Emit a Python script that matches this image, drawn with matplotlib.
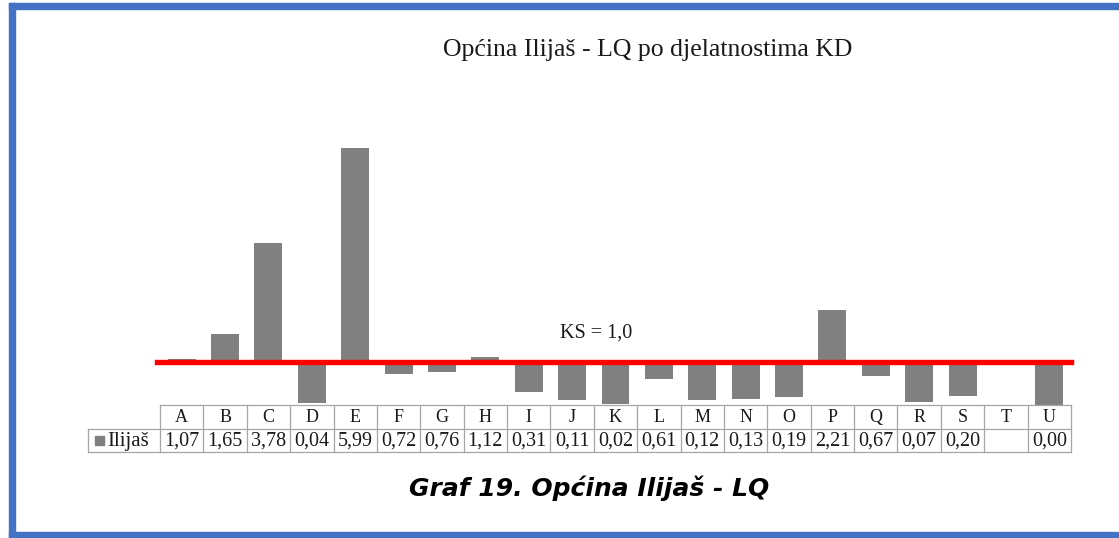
import matplotlib
matplotlib.use("Agg")
import matplotlib.pyplot as plt
from matplotlib.patches import Rectangle
from matplotlib.lines import Line2D

# ---- data ----
categories = ["A", "B", "C", "D", "E", "F", "G", "H", "I", "J", "K",
              "L", "M", "N", "O", "P", "Q", "R", "S", "T", "U"]
lq_values = [1.07, 1.65, 3.78, 0.04, 5.99, 0.72, 0.76, 1.12, 0.31, 0.11, 0.02,
             0.61, 0.12, 0.13, 0.19, 2.21, 0.67, 0.07, 0.20, None, 0.00]
series_name = "Ilijaš"
ks_level = 1.0
title = "Općina Ilijaš - LQ po djelatnostima KD"
caption = "Graf 19. Općina Ilijaš - LQ"
ks_label = "KS = 1,0"

W, H = 1119, 538
fig = plt.figure(figsize=(W / 100, H / 100), dpi=100)
fig.patch.set_facecolor("white")


def fx(x):
    return x / W


def fy(y):
    return 1 - y / H


def axes_px(x0, y0, x1, y1):
    return fig.add_axes([fx(x0), fy(y1), fx(x1) - fx(x0), fy(y0) - fy(y1)])


# ---- border ----
bc = "#4472C4"
for (x0, y0, x1, y1) in [(9, 3, 15, 538), (9, 3, W + 5, 9), (9, 532, W + 5, 538)]:
    fig.patches.append(Rectangle((fx(x0), fy(y1)), fx(x1) - fx(x0), fy(y0) - fy(y1),
                                 transform=fig.transFigure, color=bc, zorder=10))

serif = ["Liberation Serif", "DejaVu Serif"]
tc = "#1a1a1a"

# ---- main bar axes ----
X0, X1 = 160, 1071
ax = axes_px(X0, 105, X1, 405)
n = len(categories)
ax.set_xlim(-0.5, n - 0.5)
ax.set_ylim(0, 7)
ax.axis("off")
for i, v in enumerate(lq_values):
    if v is None:
        continue
    ax.bar(i, v - ks_level, bottom=ks_level, width=0.645, color="#808080", zorder=2)
ax.axhline(ks_level, xmin=-0.003, xmax=1.0, color="#FF0000", lw=3.9, zorder=3,
           clip_on=False)
ax.text(9.55, ks_level + 0.68, ks_label, ha="center", va="center",
        family=serif, fontsize=14.5, color=tc)

# ---- table ----
tab = axes_px(X0, 405, X1, 452)
tab.set_xlim(-0.5, n - 0.5)
tab.set_ylim(2, 0)
tab.axis("off")
gc = "#a6a6a6"
lw = 0.9
colw = (X1 - X0) / n
xl = -0.5 - (X0 - 88) / colw
tab.add_line(Line2D([-0.5, n - 0.5], [0, 0], color=gc, lw=lw, clip_on=False))
tab.add_line(Line2D([xl, n - 0.5], [1, 1], color=gc, lw=lw, clip_on=False))
tab.add_line(Line2D([xl, n - 0.5], [2, 2], color=gc, lw=lw, clip_on=False))
for k in range(n + 1):
    tab.add_line(Line2D([-0.5 + k, -0.5 + k], [0, 2], color=gc, lw=lw, clip_on=False))
tab.add_line(Line2D([xl, xl], [1, 2], color=gc, lw=lw, clip_on=False))

for i, (c, v) in enumerate(zip(categories, lq_values)):
    tab.text(i, 0.55, c, ha="center", va="center", family=serif, fontsize=13,
             color=tc, clip_on=False)
    if v is not None:
        tab.text(i, 1.55, f"{v:.2f}".replace(".", ","), ha="center", va="center",
                 family=serif, fontsize=14.5, color=tc, clip_on=False)

sq_x0 = -0.5 - (X0 - 95) / colw
tab.add_patch(Rectangle((sq_x0, 1.3), 9 / colw, 0.4, color="#808080", clip_on=False))
tab.text(-0.5 - (X0 - 107) / colw, 1.55, series_name, ha="left", va="center",
         family=serif, fontsize=15, color=tc, clip_on=False)

# ---- titles ----
fig.text(fx(648), fy(50), title, ha="center", va="center", family=serif,
         fontsize=18.5, color=tc)
fig.text(fx(589), fy(488), caption, ha="center", va="center",
         family=["DejaVu Sans"], fontsize=18, fontweight="bold", style="italic",
         color="black")

fig.savefig("out.png", dpi=100)
